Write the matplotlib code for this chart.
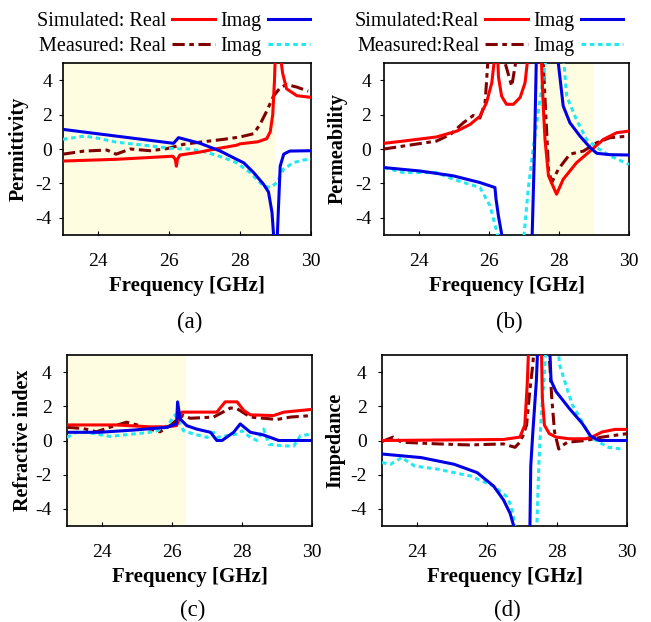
import matplotlib
matplotlib.use('Agg')
import matplotlib.pyplot as plt
from matplotlib.lines import Line2D

plt.rcParams['font.family'] = ['Liberation Serif', 'DejaVu Serif']
plt.rcParams['axes.unicode_minus'] = False

# ---- (a) permittivity ----
a_sim_re_f = [23.0, 24.5, 26.1, 26.17, 26.2, 26.23, 26.3, 26.8, 27.3, 27.9, 28.0, 28.5, 28.75, 28.85, 28.92,
              28.97, 29.0, 29.05, 29.13, 29.2, 29.31, 29.6, 30.0]
a_sim_re = [-0.7, -0.6, -0.42, -0.6, -1.0, -0.6, -0.35, -0.2, 0.0, 0.22, 0.3, 0.42, 0.6, 1.0, 2.0,
            4.0, 6.0, 6.5, 5.5, 4.4, 3.5, 3.1, 3.0]
a_sim_im_f = [23.0, 26.12, 26.26, 26.87, 27.44, 27.9, 28.1, 28.38, 28.66, 28.8, 28.9, 28.96, 29.04, 29.13,
              29.23, 29.4, 30.0]
a_sim_im = [1.14, 0.33, 0.66, 0.33, -0.12, -0.6, -0.8, -1.37, -2.05, -2.5, -3.7, -5.5, -5.5, -1.0,
            -0.3, -0.12, -0.1]
a_mea_re_f = [23.0, 23.6, 24.24, 24.5, 24.9, 25.46, 25.93, 26.4, 26.87, 27.53, 28.0, 28.38, 28.56, 28.75,
              28.94, 29.13, 29.31, 29.6, 29.92]
a_mea_re = [-0.3, -0.12, -0.06, -0.3, 0.0, -0.1, 0.02, 0.27, 0.4, 0.56, 0.7, 0.89, 1.43, 2.2,
            3.07, 3.56, 3.75, 3.6, 3.36]
a_mea_im_f = [23.0, 23.6, 23.9, 24.5, 25.5, 26.12, 26.6, 27.06, 27.53, 27.9, 28.28, 28.66, 28.85, 29.04,
              29.22, 29.5, 29.78, 30.0]
a_mea_im = [0.56, 0.75, 0.66, 0.4, 0.17, 0.02, 0.0, -0.2, -0.5, -0.8, -1.37, -2.15, -2.24, -1.95,
            -1.18, -0.8, -0.64, -0.6]

# ---- (b) permeability ----
b_sim_re_f = [23.0, 23.55, 24.5, 25.08, 25.46, 25.74, 25.93, 26.08, 26.17, 26.22, 26.27, 26.36, 26.5, 26.7,
              26.89, 27.03, 27.12, 27.48, 27.5, 27.55, 27.6, 27.7, 27.93, 28.12, 28.5, 28.89, 29.27,
              29.65, 30.0]
b_sim_re = [0.33, 0.46, 0.7, 1.04, 1.43, 1.9, 2.7, 3.85, 5.5, 7.0, 4.2, 3.07, 2.6, 2.6,
            3.0, 3.85, 5.5, 8.0, 5.0, 2.5, 0.56, -1.56, -2.63, -1.76, -0.8, -0.12, 0.56,
            0.95, 1.04]
b_sim_im_f = [23.0, 24.03, 24.98, 25.74, 26.17, 26.2, 26.27, 26.41, 27.22, 27.3, 27.36, 27.9, 27.98,
              28.12, 28.31, 28.6, 28.89, 29.08, 29.46, 30.0]
b_sim_im = [-1.08, -1.28, -1.56, -1.95, -2.24, -2.9, -3.9, -5.5, -6.0, 0.0, 6.0, 6.0, 5.0,
            2.5, 1.53, 0.75, 0.08, -0.25, -0.33, -0.35]
b_mea_re_f = [23.0, 23.55, 24.5, 24.9, 25.27, 25.55, 25.74, 25.89, 25.98, 26.2, 26.46, 26.65, 26.8, 27.2,
              27.55, 27.7, 27.79, 27.98, 28.31, 28.7, 29.08, 29.46, 30.0]
b_mea_re = [0.0, 0.17, 0.46, 0.85, 1.53, 1.95, 1.8, 2.7, 5.5, 7.0, 5.0, 3.65, 5.5, 7.0,
            5.0, -1.18, -1.95, -1.18, -0.3, -0.12, 0.37, 0.66, 0.75]
b_mea_im_f = [23.0, 23.55, 24.5, 24.98, 25.74, 26.03, 26.31, 26.98, 27.12, 27.27, 27.46, 27.65, 28.1,
              28.22, 28.5, 28.79, 29.08, 29.46, 30.0]
b_mea_im = [-1.08, -1.37, -1.37, -1.76, -2.24, -3.3, -5.5, -5.5, -2.34, 0.17, 2.9, 5.5, 6.0,
            3.07, 1.7, 0.56, 0.08, -0.4, -0.9]

# ---- (c) refractive index ----
c_sim_re_f = [23.0, 24.4, 25.37, 25.85, 26.13, 26.28, 27.28, 27.52, 27.86, 28.05, 28.24, 28.9, 29.2, 30.0]
c_sim_re = [0.91, 0.91, 0.8, 0.8, 0.87, 1.66, 1.66, 2.26, 2.26, 1.76, 1.5, 1.46, 1.66, 1.82]
c_sim_im_f = [23.0, 23.93, 24.9, 25.85, 26.13, 26.16, 26.23, 26.42, 26.7, 27.1, 27.28, 27.43, 27.76,
              27.95, 28.24, 28.62, 29.05, 30.0]
c_sim_im = [0.48, 0.48, 0.61, 0.77, 0.97, 2.26, 1.27, 0.87, 0.67, 0.48, 0.0, 0.0, 0.48,
            0.97, 0.48, 0.32, 0.0, 0.0]
c_mea_re_f = [23.0, 23.46, 23.84, 24.22, 24.7, 25.08, 25.37, 25.66, 25.94, 26.18, 26.33, 26.52, 27.19,
              27.67, 27.86, 28.24, 29.0, 29.39, 30.0]
c_mea_re = [0.77, 0.7, 0.51, 0.77, 1.07, 0.87, 0.67, 0.51, 0.87, 1.27, 1.47, 1.3, 1.37,
            1.9, 1.86, 1.37, 1.23, 1.37, 1.46]
c_mea_im_f = [23.0, 23.27, 23.55, 23.84, 24.22, 24.89, 25.37, 25.75, 25.94, 26.09, 26.18, 26.33, 26.62,
              27.0, 27.19, 27.28, 27.86, 28.0, 28.24, 28.43, 28.62, 28.77, 29.2, 29.48, 29.67, 30.0]
c_mea_im = [0.18, 0.48, 0.48, 0.38, 0.24, 0.38, 0.48, 0.67, 1.07, 1.5, 1.17, 0.57, 0.38,
            0.18, 0.48, 0.18, 0.38, 0.57, 0.18, 0.0, 0.67, -0.22, -0.32, -0.32, 0.28, 0.38]

# ---- (d) impedance ----
d_sim_re_f = [23.0, 26.47, 26.94, 27.08, 27.15, 27.2, 27.55, 27.58, 27.64, 27.78, 27.97, 28.35, 28.82,
              29.0, 29.29, 29.66, 30.0]
d_sim_re = [0.0, 0.06, 0.2, 0.9, 3.3, 6.0, 6.0, 2.5, 0.9, 0.4, 0.2, 0.1, 0.1,
            0.2, 0.5, 0.65, 0.65]
d_sim_im_f = [23.0, 24.12, 25.06, 25.72, 26.19, 26.47, 26.66, 26.77, 26.85, 27.22, 27.25, 27.31, 27.41,
              27.46, 27.78, 27.83, 27.97, 28.35, 28.72, 28.96, 29.2, 30.0]
d_sim_im = [-0.79, -1.0, -1.39, -1.88, -2.67, -3.47, -4.26, -5.05, -6.0, -6.0, -1.5, 0.5, 3.47,
            6.0, 6.0, 3.5, 2.87, 1.88, 1.0, 0.26, 0.0, 0.0]
d_mea_re_f = [23.0, 23.32, 23.56, 24.6, 25.5, 26.47, 26.8, 26.94, 27.03, 27.13, 27.22, 27.31, 27.36,
              27.75, 27.85, 27.93, 28.05, 28.15, 28.3, 28.82, 29.29, 30.0]
d_mea_re = [-0.06, 0.2, -0.1, -0.2, -0.26, -0.2, -0.4, -0.1, 0.3, 0.9, 2.87, 4.45, 6.0,
            6.0, 2.5, 0.5, -0.5, -0.3, -0.1, 0.0, 0.2, 0.4]
d_mea_im_f = [23.0, 23.24, 23.56, 23.93, 24.6, 25.53, 26.19, 26.56, 26.7, 26.8, 26.9, 27.41, 27.48,
              27.55, 27.64, 27.7, 28.02, 28.07, 28.25, 28.44, 28.72, 28.96, 29.2, 29.47, 29.85]
d_mea_im = [-1.29, -1.39, -1.0, -1.49, -1.68, -2.08, -2.67, -3.27, -3.86, -5.05, -6.0, -6.0, -1.5,
            1.5, 3.86, 6.0, 6.0, 4.45, 3.27, 2.08, 1.09, 0.2, -0.1, -0.4, -0.5]

xticks = [24, 26, 28, 30]
yticks = [-4, -2, 0, 2, 4]

RED = '#FF0000'
BLUE = '#0000E6'
DRED = '#800000'
CYAN = '#22E8F0'
SHADE = '#FFFDE1'
DASHDOT = (0, (4, 1.5, 1.5, 1.5))
DOTS = (0, (1.5, 1.2))

fig = plt.figure(figsize=(6.51, 6.22), dpi=100)

panels = [
    # axes rect, ylabel, shaded band, ylabel x, ytick pad, caption, caption y(px)
    ([63 / 651, 1 - 235 / 622, 248 / 651, 172 / 622], 'Permittivity', (23, 29), -0.14, 5, '(a)', 322,
     (a_sim_re_f, a_sim_re, a_sim_im_f, a_sim_im, a_mea_re_f, a_mea_re, a_mea_im_f, a_mea_im)),
    ([384 / 651, 1 - 235 / 622, 245 / 651, 172 / 622], 'Permeability', (27.45, 29), -0.148, 6, '(b)', 322,
     (b_sim_re_f, b_sim_re, b_sim_im_f, b_sim_im, b_mea_re_f, b_mea_re, b_mea_im_f, b_mea_im)),
    ([67 / 651, 1 - 526 / 622, 245 / 651, 171 / 622], 'Refractive index', (23, 26.4), -0.14, 8, '(c)', 610,
     (c_sim_re_f, c_sim_re, c_sim_im_f, c_sim_im, c_mea_re_f, c_mea_re, c_mea_im_f, c_mea_im)),
    ([382 / 651, 1 - 526 / 622, 245 / 651, 171 / 622], 'Impedance', None, -0.148, 8, '(d)', 610,
     (d_sim_re_f, d_sim_re, d_sim_im_f, d_sim_im, d_mea_re_f, d_mea_re, d_mea_im_f, d_mea_im)),
]

for rect, ylab, shade, lx, ypad, cap, cap_y, data in panels:
    ax = fig.add_axes(rect)
    if shade is not None:
        ax.axvspan(shade[0], shade[1], color=SHADE, zorder=0, lw=0)
    sr_f, sr, si_f, si, mr_f, mr, mi_f, mi = data
    ax.plot(mr_f, mr, color=DRED, lw=2.2, ls=DASHDOT, zorder=3)
    ax.plot(mi_f, mi, color=CYAN, lw=2.2, ls=DOTS, zorder=3)
    ax.plot(sr_f, sr, color=RED, lw=2.2, zorder=4)
    ax.plot(si_f, si, color=BLUE, lw=2.2, zorder=4)
    ax.set_xlim(23, 30)
    ax.set_ylim(-5, 5)
    ax.set_xticks(xticks)
    ax.set_yticks(yticks)
    ax.tick_params(axis='x', direction='in', length=3, pad=13, labelsize=14)
    ax.tick_params(axis='y', direction='out', length=3, pad=ypad, labelsize=14)
    for s in ax.spines.values():
        s.set_linewidth(1.2)
    ax.set_xlabel('Frequency [GHz]', fontsize=15, fontweight='bold', labelpad=4)
    ax.set_ylabel(ylab, fontsize=14.5, fontweight='bold')
    ax.yaxis.set_label_coords(lx, 0.5)
    fig.text(rect[0] + rect[2] / 2 + 3 / 651, 1 - cap_y / 622, cap, fontsize=16.5, ha='center', va='center')


def legend_handles():
    return [Line2D([], [], color=RED, lw=2.2),
            Line2D([], [], color=DRED, lw=2.2, ls=DASHDOT),
            Line2D([], [], color=BLUE, lw=2.2),
            Line2D([], [], color=CYAN, lw=2.2, ls=DOTS)]


for x0, sim_lab, mea_lab in [(37, 'Simulated: Real', 'Measured: Real'), (355, 'Simulated:Real', 'Measured:Real')]:
    fig.legend(legend_handles(), [sim_lab, mea_lab, 'Imag', 'Imag'], ncol=2, markerfirst=False,
               loc='upper left', bbox_to_anchor=(x0 / 651, 1 - 12 / 622), frameon=False,
               fontsize=14.5, handlelength=2.1, handletextpad=0.3, columnspacing=0.3,
               labelspacing=0.3, borderpad=0, borderaxespad=0)

fig.savefig('out.png', dpi=100)
